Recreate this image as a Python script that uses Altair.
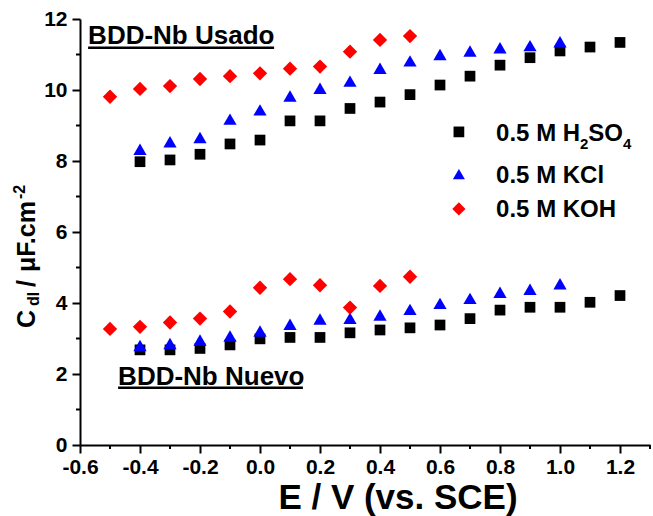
import altair as alt
import pandas as pd

# Potential (V vs. SCE) for each series
E_h2so4 = [-0.4, -0.3, -0.2, -0.1, 0.0, 0.1, 0.2, 0.3, 0.4, 0.5, 0.6, 0.7, 0.8, 0.9, 1.0, 1.1, 1.2]
E_kcl = [-0.4, -0.3, -0.2, -0.1, 0.0, 0.1, 0.2, 0.3, 0.4, 0.5, 0.6, 0.7, 0.8, 0.9, 1.0]
E_koh = [-0.5, -0.4, -0.3, -0.2, -0.1, 0.0, 0.1, 0.2, 0.3, 0.4, 0.5]

# Double-layer capacitance (uF/cm2), used electrode
usado_h2so4 = [7.98, 8.03, 8.19, 8.48, 8.59, 9.13, 9.13, 9.48, 9.66, 9.87, 10.14, 10.39, 10.70, 10.91, 11.10, 11.21, 11.34]
usado_kcl = [8.33, 8.54, 8.66, 9.18, 9.44, 9.83, 10.05, 10.25, 10.61, 10.82, 11.00, 11.10, 11.19, 11.25, 11.36]
usado_koh = [9.81, 10.03, 10.11, 10.31, 10.39, 10.47, 10.60, 10.66, 11.08, 11.41, 11.52]

# Double-layer capacitance (uF/cm2), new electrode
nuevo_h2so4 = [2.68, 2.68, 2.72, 2.82, 2.99, 3.03, 3.03, 3.16, 3.24, 3.30, 3.38, 3.56, 3.80, 3.88, 3.88, 4.02, 4.21]
nuevo_kcl = [2.80, 2.86, 2.96, 3.07, 3.21, 3.40, 3.55, 3.57, 3.66, 3.82, 3.99, 4.13, 4.30, 4.39, 4.54]
nuevo_koh = [3.27, 3.33, 3.45, 3.56, 3.76, 4.43, 4.67, 4.50, 3.87, 4.48, 4.74]

x_major = [-0.6, -0.4, -0.2, 0.0, 0.2, 0.4, 0.6, 0.8, 1.0, 1.2]
x_minor = [-0.5, -0.3, -0.1, 0.1, 0.3, 0.5, 0.7, 0.9, 1.1, 1.3]
y_major = [0, 2, 4, 6, 8, 10, 12]
y_minor = [1, 3, 5, 7, 9, 11]

FONT = "Liberation Sans"
W, H = 570, 426

xs = alt.Scale(domain=[-0.6, 1.3], nice=False, zero=False)
ys = alt.Scale(domain=[0, 12], nice=False, zero=True)


def frame(E, usado, nuevo):
    return pd.DataFrame({"E": E + E, "C": usado + nuevo})


df_h2so4 = frame(E_h2so4, usado_h2so4, nuevo_h2so4)
df_kcl = frame(E_kcl, usado_kcl, nuevo_kcl)
df_koh = frame(E_koh, usado_koh, nuevo_koh)

axis_common = dict(
    domainColor="black", domainWidth=2, tickColor="black", tickWidth=2, tickSize=8,
    labelFont=FONT, labelFontWeight="bold", labelFontSize=21, labelColor="black",
    labelOverlap=False, labelFlush=False, grid=False, title=None,
)
# plain hyphen for negative tick labels
x_axis = alt.Axis(
    values=x_major, labelPadding=3, orient="bottom",
    labelExpr="replace(format(datum.value, '.1f'), '\u2212', '-')", **axis_common
)
y_axis = alt.Axis(values=y_major, format="d", labelPadding=5, orient="left", **axis_common)


def X(field):
    return alt.X(field, scale=xs, axis=x_axis)


def Y(field):
    return alt.Y(field, scale=ys, axis=y_axis)


def points(df, shape, color, size):
    return alt.Chart(df).mark_point(shape=shape, filled=True, color=color, size=size, opacity=1).encode(
        x=X("E:Q"), y=Y("C:Q"),
    )


sq = points(df_h2so4, "square", "#000000", 115)
tri = points(df_kcl, "triangle-up", "#0000ff", 175)
dia = points(df_koh, "diamond", "#ff0000", 205)

# minor ticks, outside the plot frame
minor_x = alt.Chart(pd.DataFrame({"E": x_minor})).mark_rule(color="black", strokeWidth=2).encode(
    x=X("E:Q"), y=alt.value(H), y2=alt.value(H + 4)
)
minor_y = alt.Chart(pd.DataFrame({"C": y_minor})).mark_rule(color="black", strokeWidth=2).encode(
    y=Y("C:Q"), x=alt.value(0), x2=alt.value(-4)
)

# legend
kinds = ["square", "triangle-up", "diamond"]
leg_sym = pd.DataFrame({
    "E": [0.663, 0.663, 0.663],
    "C": [8.82, 7.63, 6.65],
    "shape": kinds,
})
legend_marks = alt.Chart(leg_sym).mark_point(filled=True, opacity=1).encode(
    x=X("E:Q"),
    y=Y("C:Q"),
    shape=alt.Shape("shape:N", scale=alt.Scale(domain=kinds, range=kinds), legend=None),
    color=alt.Color("shape:N", scale=alt.Scale(domain=kinds, range=["#000000", "#0000ff", "#ff0000"]), legend=None),
    size=alt.Size("shape:N", scale=alt.Scale(domain=kinds, range=[115, 175, 205]), legend=None),
)

leg_main = pd.DataFrame({
    "E": [0.787, 1.094, 0.787, 0.787],
    "C": [8.56, 8.56, 7.37, 6.42],
    "t": ["0.5 M H", "SO", "0.5 M KCl", "0.5 M KOH"],
})
leg_sub = pd.DataFrame({
    "E": [1.067, 1.21],
    "C": [8.56, 8.56],
    "t": ["2", "4"],
})


def text_layer(df, size, dy=0):
    return alt.Chart(df).mark_text(
        align="left", baseline="alphabetic", font=FONT, fontWeight="bold",
        fontSize=size, color="black", dy=dy,
    ).encode(x=X("E:Q"), y=Y("C:Q"), text="t:N")


legend_text = text_layer(leg_main, 24) + text_layer(leg_sub, 15, dy=8)

# electrode annotations with underline
notes = pd.DataFrame({
    "E": [-0.573, -0.473],
    "C": [11.30, 1.69],
    "t": ["BDD-Nb Usado", "BDD-Nb Nuevo"],
})
underline = pd.DataFrame({
    "E": [-0.573, -0.473],
    "E2": [0.047, 0.143],
    "C": [11.19, 1.61],
})
note_text = text_layer(notes, 26)
note_rule = alt.Chart(underline).mark_rule(color="black", strokeWidth=2.5).encode(
    x=X("E:Q"), x2="E2:Q", y=Y("C:Q")
)

# axis titles
x_title = alt.Chart(pd.DataFrame({"t": ["E / V (vs. SCE)"]})).mark_text(
    align="center", baseline="alphabetic", font=FONT, fontWeight="bold", fontSize=35, color="black"
).encode(x=alt.value(318), y=alt.value(490), text="t:N")

ytitle_parts = pd.DataFrame({
    "t": ["C", "dl", "/", "\u03bcF.cm", "-2"],
    "px": [-45, -41, -45, -45, -55],
    "py": [309, 287, 268, 253, 180],
    "fs": [25, 16, 25, 25, 16],
})
y_title = alt.Chart(ytitle_parts).mark_text(
    align="left", baseline="alphabetic", font=FONT, fontWeight="bold", color="black", angle=270
).encode(
    x=alt.X("px:Q", scale=None, axis=None),
    y=alt.Y("py:Q", scale=None, axis=None),
    text="t:N",
    size=alt.Size("fs:Q", scale=None, legend=None),
)

chart = alt.layer(
    sq, tri, dia, minor_x, minor_y, legend_marks, legend_text, note_text, note_rule, x_title, y_title
).properties(
    width=W, height=H,
    autosize=alt.AutoSizeParams(type="none"),
    padding={"left": 80, "top": 19, "right": 3, "bottom": 71},
    background="white",
).configure_view(stroke=None)

chart.save("out.html", embed_options={"renderer": "svg", "actions": False})
